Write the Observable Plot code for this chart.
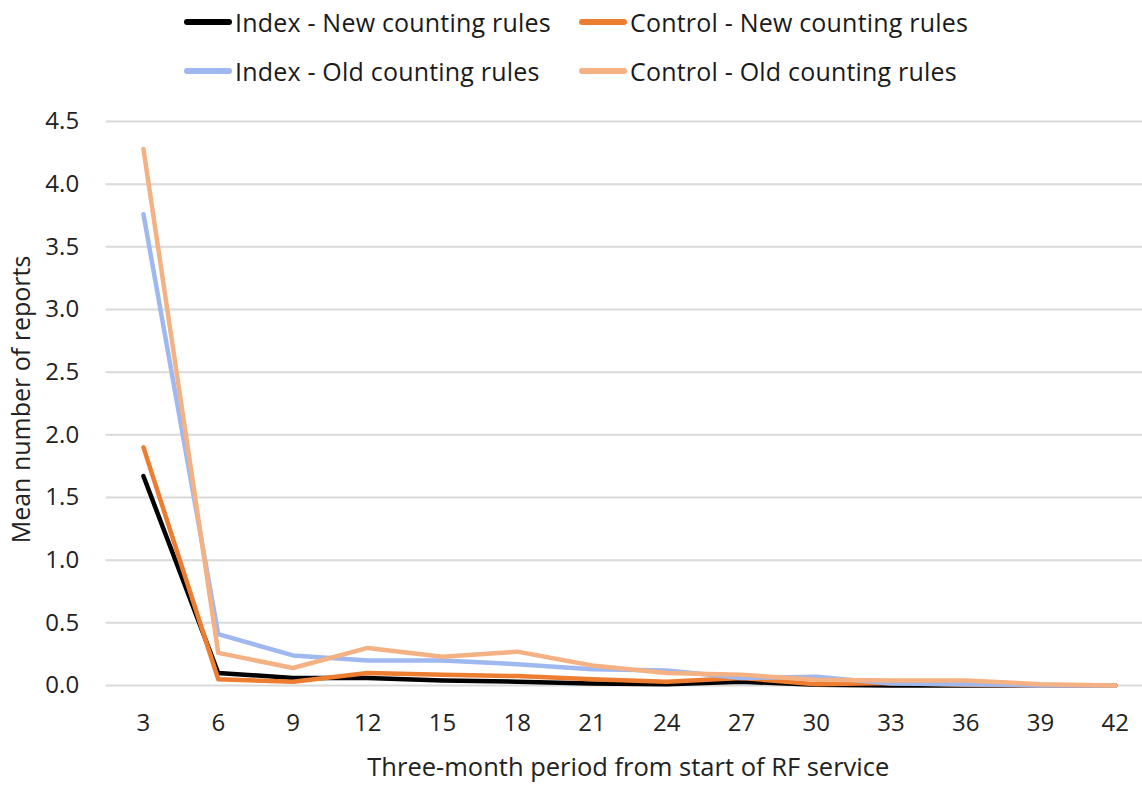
<!DOCTYPE html>
<html>
<head>
<meta charset="utf-8">
<script src="https://cdn.jsdelivr.net/npm/d3@7"></script>
<script src="https://cdn.jsdelivr.net/npm/@observablehq/plot@0.6"></script>
<style>
  body { margin: 0; background: #fff; font-family: "Open Sans", "Noto Sans", sans-serif; }
  #legend { position: relative; width: 1142px; height: 100px; }
  .item { position: absolute; display: flex; align-items: center; font-size: 25px; letter-spacing: 0.2px; color: #1a1a1a; white-space: nowrap; }
  .sw { width: 48px; height: 6px; margin-right: 3px; border-radius: 3px; }
</style>
</head>
<body>
<div id="legend"></div>
<div id="chart"></div>
<script>
const periods = [3, 6, 9, 12, 15, 18, 21, 24, 27, 30, 33, 36, 39, 42];
const indexNew   = [1.67, 0.10, 0.06, 0.06, 0.04, 0.03, 0.015, 0.01, 0.03, 0.005, 0, 0, 0, 0];
const controlNew = [1.90, 0.05, 0.03, 0.10, 0.085, 0.075, 0.05, 0.03, 0.06, 0.01, 0.02, 0.005, 0, 0];
const indexOld   = [3.76, 0.41, 0.24, 0.20, 0.20, 0.17, 0.13, 0.12, 0.06, 0.07, 0.015, 0.01, 0, 0];
const controlOld = [4.28, 0.26, 0.14, 0.30, 0.23, 0.27, 0.16, 0.10, 0.085, 0.045, 0.04, 0.04, 0.01, 0];
const seriesNames = ["Index - New counting rules", "Control - New counting rules", "Index - Old counting rules", "Control - Old counting rules"];
const seriesColors = ["#000000", "#ED7D31", "#9FB8F0", "#F4B183"];
const yTicks = [0, 0.5, 1, 1.5, 2, 2.5, 3, 3.5, 4, 4.5];

const allSeries = [indexNew, controlNew, indexOld, controlOld];
const data = [];
allSeries.forEach((vals, si) => {
  vals.forEach((v, i) => data.push({ period: periods[i], value: v, series: seriesNames[si] }));
});

// legend
const legend = document.getElementById("legend");
const pos = [[184, 22], [579, 22], [184, 71], [579, 71]];
seriesNames.forEach((name, i) => {
  const d = document.createElement("div");
  d.className = "item";
  d.style.left = pos[i][0] + "px";
  d.style.top = (pos[i][1] - 18) + "px";
  d.style.height = "36px";
  d.innerHTML = `<div class="sw" style="background:${seriesColors[i]}"></div><span>${name}</span>`;
  legend.appendChild(d);
});

const font = "'Open Sans', 'Noto Sans', sans-serif";
const chart = Plot.plot({
  width: 1142,
  height: 685,
  marginLeft: 105.6,
  marginRight: 0,
  marginTop: 21,
  marginBottom: 100,
  style: { fontFamily: font, fontSize: "24px", color: "#222" },
  x: { type: "linear", domain: [1.5, 43.09] },
  y: { domain: [0, 4.5] },
  color: { domain: seriesNames, range: seriesColors },
  marks: [
    Plot.ruleY(yTicks, { stroke: "#d9d9d9", strokeWidth: 2 }),
    Plot.axisY({ ticks: yTicks, tickSize: 0, tickPadding: 27, tickFormat: d3.format(".1f"), label: null, fontSize: 24 }),
    Plot.axisX({ ticks: periods, tickSize: 0, tickPadding: 28, tickFormat: d => String(d), label: null, fontSize: 24 }),
    Plot.text(["Mean number of reports"], { frameAnchor: "left", textAnchor: "middle", rotate: -90, dx: -84, dy: -4, fontSize: 25, fill: "#222" }),
    Plot.text(["Three-month period from start of RF service"], { frameAnchor: "bottom", lineAnchor: "bottom", dy: 90, dx: 4, fontSize: 25.5, fill: "#222" }),
    Plot.line(data, { x: "period", y: "value", z: "series", stroke: "series", strokeWidth: 4.5, strokeLinejoin: "round", strokeLinecap: "round" })
  ]
});
document.getElementById("chart").appendChild(chart);
</script>
</body>
</html>
